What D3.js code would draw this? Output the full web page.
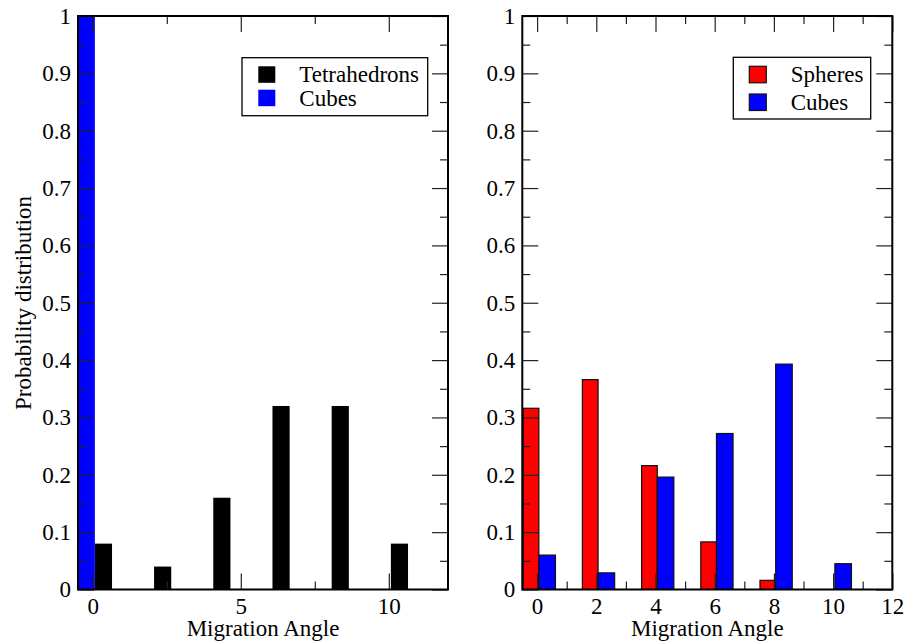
<!DOCTYPE html>
<html>
<head>
<meta charset="utf-8">
<script src="https://cdn.jsdelivr.net/npm/d3@7"></script>
<style>
  body { margin: 0; background: #fff; }
  text { font-family: "Liberation Serif", "Times New Roman", serif; fill: #000; }
</style>
</head>
<body>
<script>
// data
var anglesLeft = [0, 2, 4, 6, 8, 10];
var tetrahedrons = [0.08, 0.04, 0.16, 0.32, 0.32, 0.08];
var cubesLeft = [1.0, 0, 0, 0, 0, 0];

var anglesRight = [0, 2, 4, 6, 8, 10, 12];
var spheres = [0.316, 0.366, 0.216, 0.083, 0.016, 0, 0];
var cubesRight = [0.060, 0.029, 0.196, 0.272, 0.393, 0.045, 0];

var yMajor = [0, 0.1, 0.2, 0.3, 0.4, 0.5, 0.6, 0.7, 0.8, 0.9, 1];
var yLabels = ["0", "0.1", "0.2", "0.3", "0.4", "0.5", "0.6", "0.7", "0.8", "0.9", "1"];
var xMajorLeft = [0, 5, 10];
var xMajorRight = [0, 2, 4, 6, 8, 10, 12];

var svgWidth = 907;
var svgHeight = 644;

var svg = d3.select("body")
  .append("svg")
  .attr("width", svgWidth)
  .attr("height", svgHeight);

var plotTop = 16;
var plotBottom = 589.5;
var fontSize = 23;

function drawPanel(opts) {
  var w = opts.right - opts.left;
  var h = plotBottom - plotTop;

  var xScale = d3.scaleLinear().domain([-0.5, 12]).range([0, w]);
  var yScale = d3.scaleLinear().domain([0, 1]).range([h, 0]);

  var g = svg.append("g")
    .attr("transform", `translate(${opts.left}, ${plotTop})`);

  g.append("clipPath")
    .attr("id", opts.id + "-clip")
    .append("rect")
    .attr("width", w)
    .attr("height", h);

  var bars = g.append("g").attr("clip-path", `url(#${opts.id}-clip)`);

  // each series drawn in order, later ones on top
  opts.series.forEach(function(s) {
    bars.selectAll(".bar-" + s.key)
      .data(s.values.map((v, i) => ({x: opts.angles[i], v: v})))
      .enter()
      .append("rect")
      .attr("x", d => xScale(d.x + s.from))
      .attr("y", d => yScale(d.v))
      .attr("width", d => xScale(d.x + s.to) - xScale(d.x + s.from))
      .attr("height", d => h - yScale(d.v))
      .attr("fill", s.color)
      .attr("stroke", s.stroke ? "#111" : "none")
      .attr("stroke-width", 1.2);
  });

  var minorY = d3.range(0.05, 1, 0.1);
  var minorX = opts.minorX;

  function styleAxis(sel) {
    sel.select(".domain").remove();
    sel.selectAll(".tick line").attr("stroke", "#222").attr("stroke-width", 1.2);
    sel.selectAll(".tick text")
      .style("font-family", '"Liberation Serif", serif')
      .style("font-size", fontSize + "px")
      .attr("fill", "#000");
  }

  // left axis with labels
  g.append("g")
    .call(d3.axisLeft(yScale).tickValues(yMajor)
      .tickFormat((d, i) => yLabels[i]).tickSize(-16).tickPadding(7))
    .call(styleAxis);
  g.append("g")
    .call(d3.axisLeft(yScale).tickValues(minorY).tickFormat("").tickSize(-8))
    .call(styleAxis);

  // right axis
  g.append("g")
    .attr("transform", `translate(${w},0)`)
    .call(d3.axisRight(yScale).tickValues(yMajor).tickFormat("").tickSize(-16))
    .call(styleAxis);
  g.append("g")
    .attr("transform", `translate(${w},0)`)
    .call(d3.axisRight(yScale).tickValues(minorY).tickFormat("").tickSize(-8))
    .call(styleAxis);

  // bottom axis with labels
  g.append("g")
    .attr("transform", `translate(0,${h})`)
    .call(d3.axisBottom(xScale).tickValues(opts.majorX).tickFormat(d3.format("d"))
      .tickSize(-16).tickPadding(8))
    .call(styleAxis);
  g.append("g")
    .attr("transform", `translate(0,${h})`)
    .call(d3.axisBottom(xScale).tickValues(minorX).tickFormat("").tickSize(-8))
    .call(styleAxis);

  // top axis
  g.append("g")
    .call(d3.axisTop(xScale).tickValues(opts.majorX).tickFormat("").tickSize(-16))
    .call(styleAxis);
  g.append("g")
    .call(d3.axisTop(xScale).tickValues(minorX).tickFormat("").tickSize(-8))
    .call(styleAxis);

  // frame
  g.append("rect")
    .attr("width", w)
    .attr("height", h)
    .attr("fill", "none")
    .attr("stroke", "#000")
    .attr("stroke-width", 2);

  // x title
  g.append("text")
    .attr("x", w / 2)
    .attr("y", h + 46.5)
    .attr("text-anchor", "middle")
    .style("font-size", fontSize + "px")
    .text("Migration Angle");

  // legend
  var lg = opts.legend;
  svg.append("rect")
    .attr("x", lg.x)
    .attr("y", lg.y)
    .attr("width", lg.w)
    .attr("height", lg.h)
    .attr("fill", "#fff")
    .attr("stroke", "#000")
    .attr("stroke-width", 1.3);

  lg.items.forEach(function(item, i) {
    svg.append("rect")
      .attr("x", lg.x + lg.swatchX)
      .attr("y", lg.y + lg.rowY[i] - 16)
      .attr("width", 17)
      .attr("height", 16.5)
      .attr("fill", item.color)
      .attr("stroke", item.stroke ? "#111" : "none")
      .attr("stroke-width", 1.2);
    svg.append("text")
      .attr("x", lg.x + lg.textX)
      .attr("y", lg.y + lg.rowY[i])
      .style("font-size", fontSize + "px")
      .text(item.label);
  });
}

drawPanel({
  id: "left",
  left: 78,
  right: 448,
  angles: anglesLeft,
  majorX: xMajorLeft,
  minorX: [2.5, 7.5],
  series: [
    {key: "tet", values: tetrahedrons, color: "#000", from: 0.07, to: 0.65, stroke: false},
    {key: "cub", values: cubesLeft, color: "#0000ff", from: -0.53, to: 0.07, stroke: false}
  ],
  legend: {
    x: 242, y: 57.7, w: 185.7, h: 58,
    swatchX: 16.3, textX: 57.3, rowY: [24.6, 48],
    items: [
      {label: "Tetrahedrons", color: "#000", stroke: false},
      {label: "Cubes", color: "#0000ff", stroke: false}
    ]
  }
});

drawPanel({
  id: "right",
  left: 522.3,
  right: 892.3,
  angles: anglesRight,
  majorX: xMajorRight,
  minorX: [1, 3, 5, 7, 9, 11],
  series: [
    {key: "sph", values: spheres, color: "#ff0000", from: -0.47, to: 0.06, stroke: true},
    {key: "cub", values: cubesRight, color: "#0000ff", from: 0.06, to: 0.62, stroke: true}
  ],
  legend: {
    x: 733.3, y: 57.3, w: 137.4, h: 61.7,
    swatchX: 16, textX: 57.4, rowY: [25, 52.7],
    items: [
      {label: "Spheres", color: "#ff0000", stroke: true},
      {label: "Cubes", color: "#0000ff", stroke: true}
    ]
  }
});

// shared y title on the left panel
svg.append("text")
  .attr("transform", "translate(31,303) rotate(-90)")
  .attr("text-anchor", "middle")
  .style("font-size", fontSize + "px")
  .text("Probability distribution");
</script>
</body>
</html>
